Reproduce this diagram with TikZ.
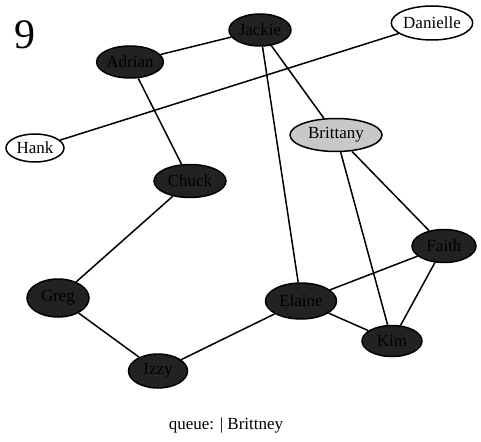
\documentclass[tikz,border=0pt]{standalone}
\usepackage{fontspec}
\setmainfont{Liberation Serif}
\usetikzlibrary{shapes.geometric}
\definecolor{visited}{HTML}{222222}
\definecolor{queued}{HTML}{C8C8C8}

\begin{document}
\begin{tikzpicture}[x=1pt,y=-1pt,
  person/.style={ellipse,draw=black,line width=1.5pt,inner sep=0pt,font=\fontsize{17}{19}\selectfont},
  done/.style={person,fill=visited},
  waiting/.style={person,fill=queued},
  fresh/.style={person,fill=white}]
\useasboundingbox (0,0) rectangle (481,441);
\node (step9) at (25,35) {\fontsize{42}{46}\selectfont 9};
\node[done,minimum width=64,minimum height=32] (adrian) at (130,62) {Adrian};
\node[done,minimum width=62,minimum height=32] (jackie) at (260,30) {Jackie};
\node[fresh,minimum width=75,minimum height=34] (danielle) at (432,23) {Danielle};
\node[fresh,minimum width=58,minimum height=28] (hank) at (35,148) {Hank};
\node[waiting,minimum width=92,minimum height=33] (brittany) at (336,135) {Brittany};
\node[done,minimum width=72,minimum height=33] (chuck) at (190,181) {Chuck};
\node[done,minimum width=62,minimum height=38] (greg) at (58,298) {Greg};
\node[done,minimum width=59,minimum height=34] (izzy) at (158,371) {Izzy};
\node[done,minimum width=71,minimum height=36] (elaine) at (301,301) {Elaine};
\node[done,minimum width=64,minimum height=33] (faith) at (444,246) {Faith};
\node[done,minimum width=60,minimum height=31] (kim) at (392,341) {Kim};
% friendships
\foreach \a/\b in {adrian/jackie,adrian/chuck,jackie/elaine,jackie/brittany,
  danielle/hank,brittany/faith,brittany/kim,chuck/greg,greg/izzy,
  izzy/elaine,elaine/faith,elaine/kim,faith/kim}
  \draw[line width=1.5pt] (\a) -- (\b);
\node (queue) at (226,425) {\fontsize{17}{19}\selectfont queue: | Brittney};
\end{tikzpicture}
\end{document}
